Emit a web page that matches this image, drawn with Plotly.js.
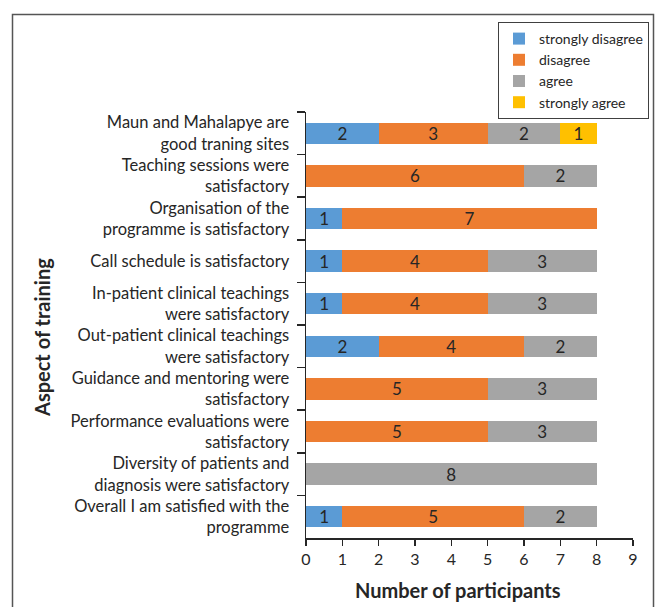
<!DOCTYPE html>
<html>
<head>
<meta charset="utf-8">
<script src="https://cdn.plot.ly/plotly-3.0.1.min.js"></script>
<style>html,body{margin:0;padding:0;background:#fff;}#chart{width:657px;height:607px;}</style>
</head>
<body>
<div id="chart"></div>
<script>
const categories = [
  "Maun and Mahalapye are<br>good traning sites",
  "Teaching sessions were<br>satisfactory",
  "Organisation of the<br>programme is satisfactory",
  "Call schedule is satisfactory",
  "In-patient clinical teachings<br>were satisfactory",
  "Out-patient clinical teachings<br>were satisfactory",
  "Guidance and mentoring were<br>satisfactory",
  "Performance evaluations were<br>satisfactory",
  "Diversity of patients and<br>diagnosis were satisfactory",
  "Overall I am satisfied with the<br>programme"
];
const stronglyDisagree = [2, 0, 1, 1, 1, 2, 0, 0, 0, 1];
const disagree         = [3, 6, 7, 4, 4, 4, 5, 5, 0, 5];
const agree            = [2, 2, 0, 3, 3, 2, 3, 3, 8, 2];
const stronglyAgree    = [1, 0, 0, 0, 0, 0, 0, 0, 0, 0];
const seriesNames = ["strongly disagree", "disagree", "agree", "strongly agree"];
const xTicks = [0,1,2,3,4,5,6,7,8,9];

const colors = ["#5B9BD5", "#ED7D31", "#A5A5A5", "#FFC000"];
const series = [stronglyDisagree, disagree, agree, stronglyAgree];
const FONT = "Lato, sans-serif";

const traces = series.map((vals, i) => ({
  type: "bar",
  orientation: "h",
  name: seriesNames[i],
  y: categories,
  x: vals,
  text: vals.map(v => v ? String(v) : ""),
  textposition: "inside",
  insidetextanchor: "middle",
  textangle: 0,
  constraintext: "none",
  textfont: {family: FONT, size: 17, color: "#262626"},
  marker: {color: colors[i], line: {width: 0}},
  width: 0.5,
  hoverinfo: "none"
}));

const W = 657, H = 607, L = 306, R = 24, T = 112, B = 69;
const pw = W - L - R, ph = H - T - B;
const px = x => (x - L) / pw;
const py = y => (H - B - y) / ph;

const layout = {
  width: W, height: H,
  margin: {l: L, r: R, t: T, b: B, pad: 0, autoexpand: false},
  paper_bgcolor: "#fff", plot_bgcolor: "#fff",
  barmode: "stack",
  font: {family: FONT, size: 14, color: "#262626"},
  showlegend: true,
  legend: {
    xref: "container", yref: "container",
    x: 498 / W, y: 1 - 22 / H, xanchor: "left", yanchor: "top",
    bordercolor: "#404040", borderwidth: 1,
    font: {family: FONT, size: 14, color: "#262626"},
    traceorder: "normal", itemwidth: 30, tracegroupgap: 0
  },
  xaxis: {
    range: [0, 9], tickvals: xTicks, ticktext: xTicks.map(String),
    showgrid: false, zeroline: false,
    showline: true, linecolor: "#262626", linewidth: 1.5,
    ticks: "outside", ticklen: 6, tickcolor: "#262626", tickwidth: 1.5,
    tickfont: {family: FONT, size: 16, color: "#262626"},
    automargin: false, fixedrange: true
  },
  yaxis: {
    type: "category", autorange: "reversed",
    showgrid: false, zeroline: false,
    showline: true, linecolor: "#262626", linewidth: 1.5,
    ticks: "outside", ticklen: 8, tickcolor: "#262626", tickwidth: 1.5,
    tickson: "boundaries", ticklabelstandoff: 12,
    tickfont: {family: FONT, size: 16.5, color: "#262626"},
    automargin: false, fixedrange: true
  },
  annotations: [
    {text: "<b>Number of participants</b>", xref: "paper", yref: "paper",
     x: px(458), y: py(590), xanchor: "center", yanchor: "middle", showarrow: false,
     font: {family: FONT, size: 20, color: "#262626"}},
    {text: "<b>Aspect of training</b>", xref: "paper", yref: "paper",
     x: px(42), y: py(338), xanchor: "center", yanchor: "middle", textangle: -90, showarrow: false,
     font: {family: FONT, size: 20, color: "#262626"}}
  ],
  shapes: [
    {type: "rect", xref: "paper", yref: "paper", x0: px(12.5), x1: px(653.5), y0: py(14.5), y1: py(620),
     line: {color: "#555", width: 1.5}, fillcolor: "rgba(0,0,0,0)"}
  ]
};

Plotly.newPlot("chart", traces, layout, {staticPlot: true, displayModeBar: false});
</script>
</body>
</html>
